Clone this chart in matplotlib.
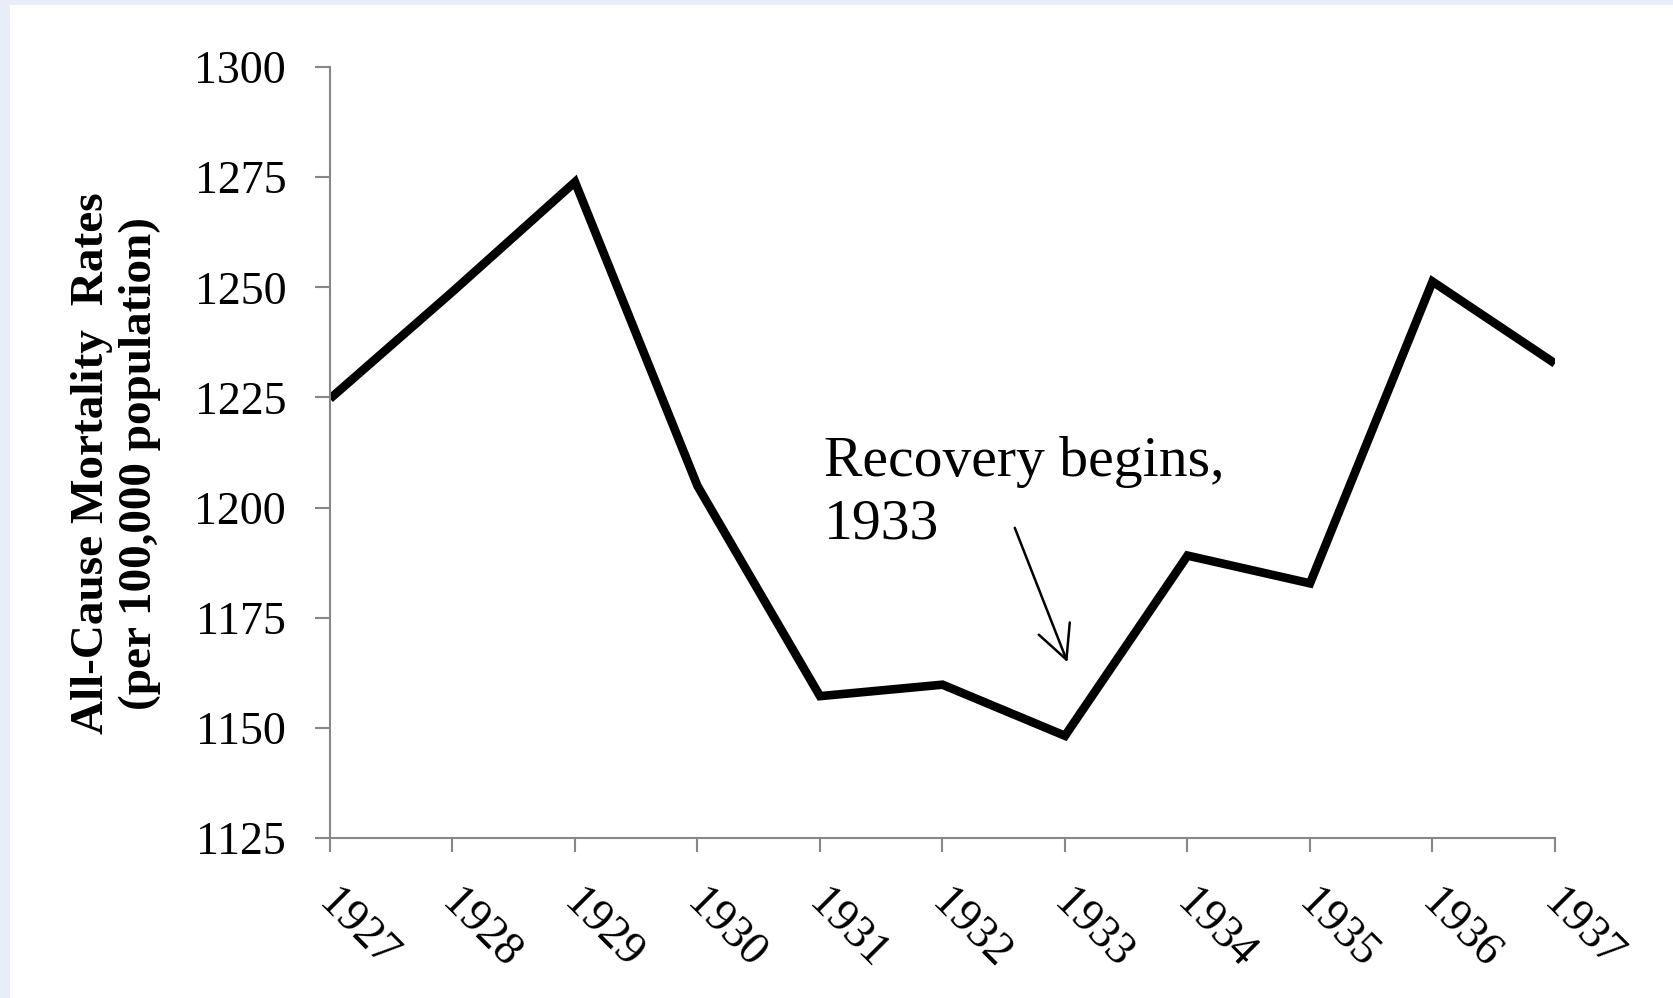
import matplotlib
matplotlib.use("Agg")
import matplotlib.pyplot as plt
from matplotlib.patches import Rectangle
from matplotlib.transforms import ScaledTranslation

##------------------------------------------##
##                  DATA                    ##
##------------------------------------------##
years = [1927, 1928, 1929, 1930, 1931, 1932, 1933, 1934, 1935, 1936, 1937]
mortality = [1224.7, 1249.0, 1273.9, 1204.9, 1157.2, 1159.8, 1148.2, 1189.1, 1182.8, 1251.3, 1232.7]
yticks = [1125, 1150, 1175, 1200, 1225, 1250, 1275, 1300]
ylabel_txt = "All-Cause Mortality  Rates\n(per 100,000 population)"
note_txt = "Recovery begins,\n1933"

plt.rcParams['font.family'] = ['Liberation Serif', 'DejaVu Serif']

W, H = 1673, 998
fig = plt.figure(figsize=(W/100, H/100), dpi=100)
fig.patch.set_facecolor('#e8eef7')
# white panel inside the thin blue frame
fig.patches.append(Rectangle((10/W, 0), 1 - 10/W, 1 - 5/H, transform=fig.transFigure,
                             facecolor='white', edgecolor='none', zorder=-1))

ax = fig.add_axes([330/W, (H-838)/H, (1555-330)/W, (838-67)/H])
ax.set_facecolor('none')

ax.plot(years, mortality, color='black', lw=6.2, solid_joinstyle='miter', solid_capstyle='butt')

ax.set_xlim(1927, 1937)
ax.set_ylim(1125, 1300)
ax.set_yticks(yticks)
ax.set_xticks(years)
ax.set_xticklabels([str(y) for y in years], rotation=-45, ha='left', va='top',
                   rotation_mode='anchor', fontsize=33)
ax.tick_params(axis='y', labelsize=33, length=10.5, width=1.5, color='#878787', pad=21)
ax.tick_params(axis='x', length=10, width=1.5, color='#878787', pad=22)
# nudge the slanted year labels a bit to the right
shift = ScaledTranslation(0.1, 0, fig.dpi_scale_trans)
for lab in ax.get_xticklabels():
    lab.set_transform(lab.get_transform() + shift)

for s in ['top', 'right']:
    ax.spines[s].set_visible(False)
for s in ['left', 'bottom']:
    ax.spines[s].set_color('#878787')
    ax.spines[s].set_linewidth(1.5)

# y label, placed on the figure
fig.text(116/W, (H-463)/H, ylabel_txt, rotation=90, ha='center', va='center',
         fontsize=34, fontweight='bold', linespacing=1.2, multialignment='center')

# annotation
ax.text(1931.03, 1216.2, note_txt, fontsize=41.5, ha='left', va='top', linespacing=1.25)
ax.annotate('', xy=(1933.02, 1164.9), xytext=(1932.59, 1195.4),
            arrowprops=dict(arrowstyle='->,head_length=1.2,head_width=0.6',
                            color='black', lw=1.8, mutation_scale=20,
                            shrinkA=0, shrinkB=0))

fig.savefig('out.png', dpi=100, facecolor=fig.get_facecolor())
